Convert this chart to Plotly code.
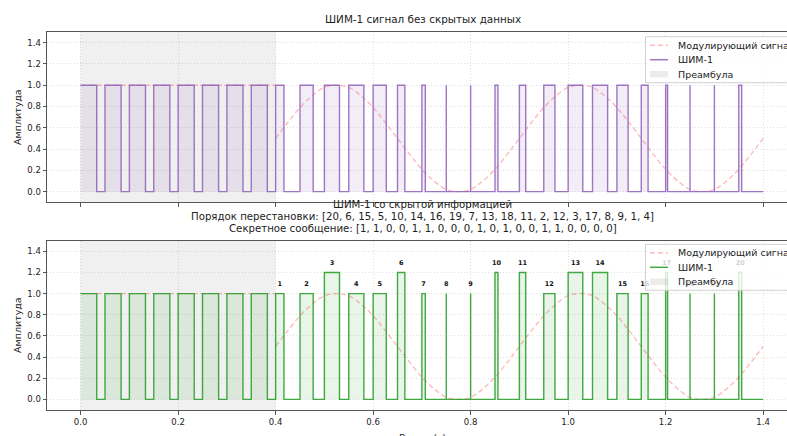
import plotly.graph_objects as go

# ---------------- data ----------------
PERIOD = 0.05
PREAMBLE_END = 0.4
PREAMBLE_WIDTHS = [0.033, 0.033, 0.033, 0.033, 0.033, 0.033, 0.033, 0.033]
DATA_WIDTHS = [0.017, 0.027, 0.031, 0.031, 0.027, 0.015, 0.007, 0.0, 0.0, 0.006,
               0.013, 0.023, 0.030, 0.031, 0.023, 0.014, 0.004, 0.0, 0.0, 0.006]
BASE_LEVEL = 1.0
HIGH_LEVEL = 1.2
PERMUTATION = [20, 6, 15, 5, 10, 14, 16, 19, 7, 13, 18, 11, 2, 12, 3, 17, 8, 9, 1, 4]
SECRET = [1, 1, 0, 0, 1, 1, 0, 0, 0, 1, 0, 1, 0, 0, 1, 1, 0, 0, 0, 0]
MOD_T = [0.4 + 0.025 * k for k in range(41)]
MOD_VALUES = [0.50, 0.65, 0.79, 0.90, 0.98, 1.00, 0.98, 0.90, 0.79, 0.65,
              0.50, 0.35, 0.21, 0.10, 0.02, 0.00, 0.02, 0.10, 0.21, 0.35,
              0.50, 0.65, 0.79, 0.90, 0.98, 1.00, 0.98, 0.90, 0.79, 0.65,
              0.50, 0.35, 0.21, 0.10, 0.02, 0.00, 0.02, 0.10, 0.21, 0.35, 0.50]
PREAMBLE_MOD_T = [0.0, 0.4]
PREAMBLE_MOD_VALUES = [1.0, 1.0]
X_TICKS = [0.0, 0.2, 0.4, 0.6, 0.8, 1.0, 1.2, 1.4]
Y_TICKS = [0.0, 0.2, 0.4, 0.6, 0.8, 1.0, 1.2, 1.4]
LEGEND_NAMES = ["Модулирующий сигнал", "ШИМ-1", "Преамбула"]

TITLE_TOP = "ШИМ-1 сигнал без скрытых данных"
TITLE_BOTTOM = ["ШИМ-1 со скрытой информацией",
                "Порядок перестановки: [" + ", ".join(str(p) for p in PERMUTATION) + "]",
                "Секретное сообщение: [" + ", ".join(str(b) for b in SECRET) + "]"]

# stego amplitudes derived from permutation + secret bits
stego_amps = [BASE_LEVEL] * len(DATA_WIDTHS)
for p, b in zip(PERMUTATION, SECRET):
    if b:
        stego_amps[p - 1] = HIGH_LEVEL
plain_amps = [BASE_LEVEL] * len(DATA_WIDTHS)


def build_pwm(data_amps):
    widths = PREAMBLE_WIDTHS + DATA_WIDTHS
    amps = [BASE_LEVEL] * len(PREAMBLE_WIDTHS) + list(data_amps)
    xs, ys = [], []
    for i, (w, a) in enumerate(zip(widths, amps)):
        t0 = i * PERIOD
        if i > 0:
            xs.append(t0); ys.append(0.0)
        xs += [t0, t0 + w, t0 + w]
        ys += [a, a, 0.0]
    xs.append(len(widths) * PERIOD); ys.append(0.0)
    return xs, ys


# ---------------- layout geometry ----------------
W, H = 787, 436
ML, MR, MT, MB = 47, 0, 32, 26
PH = H - MT - MB


def py(pix):
    return (H - MB - pix) / PH


def px(pix):
    return (pix - ML) / (W - ML - MR)


FONT = "DejaVu Sans"
PURPLE = "rgba(148,103,189,0.9)"
GREEN = "rgba(44,160,44,0.9)"
MODC = "rgba(255,60,60,0.35)"
PRE_FILL = "rgba(128,128,128,0.12)"
DASH = "5px,3px"

fig = go.Figure()

panels = [
    ("x", "y", plain_amps, PURPLE, "rgba(148,103,189,0.12)", 36.7),
    ("x2", "y2", stego_amps, GREEN, "rgba(44,160,44,0.10)", 244.3),
]
for xa, ya, amps, col, fcol, leg_top in panels:
    fig.add_trace(go.Scatter(x=MOD_T, y=MOD_VALUES, mode="lines", xaxis=xa, yaxis=ya,
                             line=dict(color=MODC, width=1.4, dash=DASH, shape="spline"),
                             name=LEGEND_NAMES[0], showlegend=False))
    fig.add_trace(go.Scatter(x=PREAMBLE_MOD_T, y=PREAMBLE_MOD_VALUES, mode="lines", xaxis=xa, yaxis=ya,
                             line=dict(color=MODC, width=1.4, dash=DASH),
                             name=LEGEND_NAMES[0], showlegend=False))
    xs, ys = build_pwm(amps)
    fig.add_trace(go.Scatter(x=xs, y=ys, mode="lines", xaxis=xa, yaxis=ya,
                             line=dict(color=col, width=1.4), fill="tozeroy", fillcolor=fcol,
                             name=LEGEND_NAMES[1], showlegend=False))
    fig.add_shape(type="rect", xref=xa, yref=ya + " domain", x0=0, x1=PREAMBLE_END, y0=0, y1=1,
                  fillcolor=PRE_FILL, line=dict(width=0), layer="below")

    # legend box (matplotlib-style, drawn above the data)
    fig.add_shape(type="rect", xref="paper", yref="paper",
                  x0=px(645.5), x1=px(800), y0=py(leg_top + 46), y1=py(leg_top),
                  fillcolor="rgba(255,255,255,0.8)", line=dict(color="#d0d0d0", width=1),
                  layer="above")
    rows = [leg_top + 8.5, leg_top + 23, leg_top + 37.5]
    fig.add_shape(type="line", xref="paper", yref="paper", x0=px(650), x1=px(668),
                  y0=py(rows[0]), y1=py(rows[0]), line=dict(color=MODC, width=1.4, dash=DASH),
                  layer="above")
    fig.add_shape(type="line", xref="paper", yref="paper", x0=px(650), x1=px(668),
                  y0=py(rows[1]), y1=py(rows[1]), line=dict(color=col, width=1.5), layer="above")
    fig.add_shape(type="rect", xref="paper", yref="paper", x0=px(650), x1=px(668),
                  y0=py(rows[2] + 3.2), y1=py(rows[2] - 3.2),
                  fillcolor="rgba(128,128,128,0.15)", line=dict(width=0), layer="above")
    for name, r in zip(LEGEND_NAMES, rows):
        fig.add_annotation(text=name, x=px(676), y=py(r), xref="paper", yref="paper",
                           xanchor="left", yanchor="middle", showarrow=False,
                           font=dict(family=FONT, size=9.5, color="#222"))

# pulse number labels in the stego plot
lab_x, lab_y, lab_t = [], [], []
n_pre = len(PREAMBLE_WIDTHS)
for k, (w, a) in enumerate(zip(DATA_WIDTHS, stego_amps)):
    t0 = (n_pre + k) * PERIOD
    lab_x.append(t0 + w / 2)
    lab_y.append(a + 0.085)
    lab_t.append("<b>%d</b>" % (k + 1))
fig.add_trace(go.Scatter(x=lab_x, y=lab_y, text=lab_t, mode="text", xaxis="x2", yaxis="y2",
                         textfont=dict(family=FONT, size=6.5, color="#111"), showlegend=False))

x_left = -0.069
scale = 487.5
x_right = x_left + (W - ML - MR) / scale
top_dom = [py(202.3), 1.0]
bot_dom = [0.0, py(240.7)]

ax_common = dict(showline=True, linecolor="#555", linewidth=1, mirror=True,
                 ticks="outside", ticklen=3.5, tickcolor="#555",
                 showgrid=True, gridcolor="rgba(0,0,0,0.13)", griddash="1px,2px", gridwidth=0.8,
                 zeroline=False, tickfont=dict(family=FONT, size=8.5, color="#222"),
                 automargin=False)

fig.update_layout(
    width=W, height=H,
    margin=dict(l=ML, r=MR, t=MT, b=MB, autoexpand=False),
    paper_bgcolor="white", plot_bgcolor="white",
    font=dict(family=FONT, color="#222"),
    showlegend=False,
    xaxis=dict(ax_common, domain=[0, 1], anchor="y", range=[x_left, x_right],
               tickvals=X_TICKS, showticklabels=False),
    yaxis=dict(ax_common, domain=top_dom, anchor="x", range=[-0.1, 1.5],
               tickvals=Y_TICKS, tickformat=".1f"),
    xaxis2=dict(ax_common, domain=[0, 1], anchor="y2", range=[x_left, x_right],
                tickvals=X_TICKS, tickformat=".1f"),
    yaxis2=dict(ax_common, domain=bot_dom, anchor="x2", range=[-0.1, 1.5],
                tickvals=Y_TICKS, tickformat=".1f"),
)

center_x = px(422.5)
annots = [dict(text=TITLE_TOP, x=center_x, y=py(19), size=10.4)]
for i, line in enumerate(TITLE_BOTTOM):
    annots.append(dict(text=line, x=center_x, y=py(204 + 12 * i), size=10.2))
for a in annots:
    fig.add_annotation(text=a["text"], x=a["x"], y=a["y"], xref="paper", yref="paper",
                       xanchor="center", yanchor="middle", showarrow=False,
                       font=dict(family=FONT, size=a["size"], color="#222"))
for yc in [117, 325]:
    fig.add_annotation(text="Амплитуда", x=px(17), y=py(yc), xref="paper", yref="paper",
                       textangle=-90, showarrow=False, xanchor="center", yanchor="middle",
                       font=dict(family=FONT, size=9.5, color="#222"))
fig.add_annotation(text="Время (с)", x=center_x, y=py(430), xref="paper", yref="paper",
                   xanchor="center", yanchor="top", showarrow=False,
                   font=dict(family=FONT, size=9.5, color="#222"))

fig.write_html("out.html", config={"displayModeBar": False},
               post_script="document.body.style.margin='0';document.body.style.overflow='hidden';")
